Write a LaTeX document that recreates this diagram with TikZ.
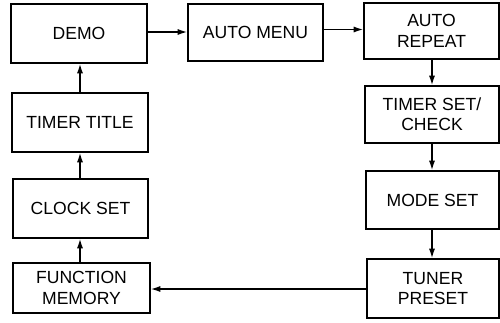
\documentclass[tikz,border=0pt]{standalone}
\usepackage{fontspec}
\setmainfont{Liberation Sans}
\usetikzlibrary{arrows.meta}
\begin{document}
\begin{tikzpicture}[x=0.02cm,y=-0.02cm,
  box/.style={draw,line width=0.85pt,inner sep=0pt,align=center,
    font=\fontsize{10}{11.6}\selectfont},
  flow/.style={line width=0.85pt,-{Latex[length=5.5pt,width=3.5pt]}}]
\useasboundingbox (0,0) rectangle (500,322);
\node[box,minimum width=2.72cm,minimum height=1.18cm] (demo) at (79,33.5) {DEMO};
\node[box,minimum width=2.70cm,minimum height=1.14cm] (amenu) at (255.5,32.5) {AUTO MENU};
\node[box,minimum width=2.70cm,minimum height=1.12cm] (arep) at (431.5,31) {AUTO\\REPEAT};
\node[box,minimum width=2.68cm,minimum height=1.14cm] (tset) at (432,114.5) {TIMER SET/\\CHECK};
\node[box,minimum width=2.66cm,minimum height=1.16cm] (mode) at (432.5,200) {MODE SET};
\node[box,minimum width=2.64cm,minimum height=1.18cm] (tuner) at (433,288.5) {TUNER\\PRESET};
\node[box,minimum width=2.72cm,minimum height=1.18cm] (ttitle) at (80,122.5) {TIMER TITLE};
\node[box,minimum width=2.70cm,minimum height=1.18cm] (clock) at (80.5,208.5) {CLOCK SET};
\node[box,minimum width=2.74cm,minimum height=1.00cm] (func) at (81.5,288) {FUNCTION\\MEMORY};
\draw[flow] (demo.east |- 0,32) -- (amenu.west |- 0,32);
\draw[flow] (amenu.east |- 0,29.5) -- (arep.west |- 0,29.5);
\draw[flow] (arep.south -| 432,0) -- (tset.north -| 432,0);
\draw[flow] (tset.south -| 432,0) -- (mode.north -| 432,0);
\draw[flow] (mode.south -| 432,0) -- (tuner.north -| 432,0);
\draw[flow] (tuner.west |- 0,289) -- (func.east |- 0,289);
\draw[flow] (func.north -| 80,0) -- (clock.south -| 80,0);
\draw[flow] (clock.north -| 80,0) -- (ttitle.south -| 80,0);
\draw[flow] (ttitle.north -| 80,0) -- (demo.south -| 80,0);
\end{tikzpicture}
\end{document}
